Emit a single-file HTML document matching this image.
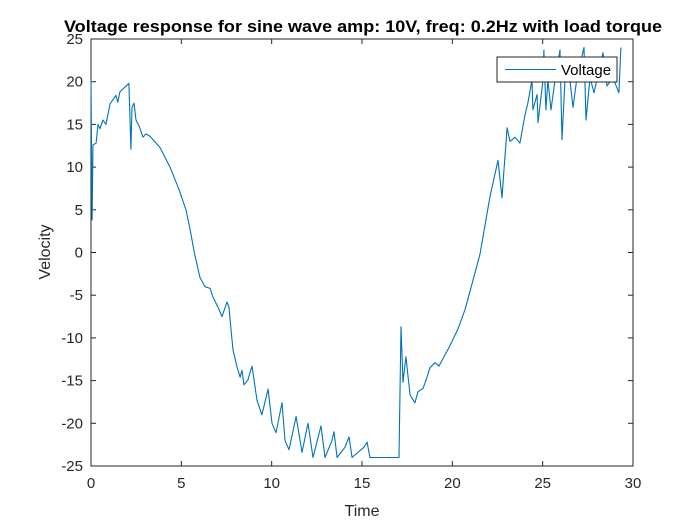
<!DOCTYPE html>
<html><head><meta charset="utf-8"><style>
body{margin:0;background:#fff;}
svg text{font-family:"Liberation Sans",Arial,sans-serif;}
</style></head><body>
<svg id="chart" width="700" height="525" xmlns="http://www.w3.org/2000/svg">
<rect width="700" height="525" fill="#fff"/>
<g id="plot"></g>
</svg>
<script>
const xTicks=[0,5,10,15,20,25,30];
const yTicks=[-25,-20,-15,-10,-5,0,5,10,15,20,25];
const timeVals=[
0,0.06,0.11,0.28,0.39,0.5,0.66,0.83,1.05,1.38,
1.49,1.6,2.1,2.21,2.27,2.38,2.49,2.66,2.88,3.04,
3.27,3.82,4.37,4.85,5.26,5.5,5.72,6.03,6.31,6.59,
6.75,7.03,7.25,7.53,7.64,7.75,7.86,8.08,8.25,8.36,
8.47,8.69,8.91,9.19,9.46,9.8,10.02,10.24,10.57,10.74,
10.96,11.35,11.68,12.01,12.29,12.73,12.95,13.34,13.45,13.62,
14.06,14.28,14.45,15.11,15.28,15.44,17.05,17.16,17.27,17.43,
17.66,17.93,18.1,18.38,18.6,18.76,19.04,19.26,19.87,20.3,
20.7,21.1,21.53,22.08,22.53,22.75,22.86,23.03,23.19,23.47,
23.74,24.02,24.19,24.41,24.46,24.69,24.74,25.02,25.07,25.18,
25.29,25.46,25.68,25.96,26.07,26.24,26.51,26.68,26.9,27.29,
27.4,27.62,27.84,28.34,28.56,28.89,29.22,29.33];
const velocityVals=[
20.2,3.8,12.6,12.8,15,14.5,15.5,15,17.4,18.4,
17.6,18.8,19.8,12.1,17,17.5,15.5,14.8,13.5,13.9,
13.6,12.3,10,7.5,5,2.5,0,-2.9,-4,-4.2,
-5.2,-6.4,-7.5,-5.8,-6.4,-9,-11.4,-13.4,-14.6,-13.8,
-15.5,-14.9,-13.3,-17.3,-19,-16,-20,-21.1,-17.6,-22,
-23.1,-19.2,-23.4,-20,-24,-20.3,-24,-22,-21,-24,
-22.8,-21.6,-24,-22.8,-22.2,-24,-24,-8.7,-15.2,-12.2,
-16.7,-17.6,-16.3,-15.9,-14.6,-13.5,-12.9,-13.3,-10.9,-9,
-6.7,-3.6,-0.2,6.5,10.8,6.4,9.7,14.6,13,13.5,
12.8,16.1,17.6,20.2,16.7,18.5,15.2,20.2,23.7,16.7,
20.2,16.7,20.2,23.7,13.2,20.5,20.2,17,20.5,24,
15.5,20.5,18.7,23.4,19.5,20.5,18.7,24];
const L=91,R=633,T=39,B=466;
const xS=v=>L+(v-0)/(30-0)*(R-L);
const yS=v=>B-(v+25)/50*(B-T);
const g=document.getElementById('plot');
const NS='http://www.w3.org/2000/svg';
function mk(tag,attrs,txt){const e=document.createElementNS(NS,tag);for(const k in attrs)e.setAttribute(k,attrs[k]);if(txt!==undefined)e.textContent=txt;g.appendChild(e);return e;}
let e=mk('rect',{x:L,y:T,width:R-L,height:B-T,fill:'#fff',stroke:'#262626','stroke-width':1});


xTicks.forEach(t=>{const x=xS(t);
 mk('line',{x1:x,x2:x,y1:B,y2:B-5,stroke:'#262626'});mk('line',{x1:x,x2:x,y1:T,y2:T+5,stroke:'#262626'});
 const tx=mk('text',{x:x,y:B+22,'text-anchor':'middle','font-size':15,fill:'#262626'},String(t));
 
 });
yTicks.forEach(t=>{const y=yS(t);
 mk('line',{x1:L,x2:L+5,y1:y,y2:y,stroke:'#262626'});mk('line',{x1:R,x2:R-5,y1:y,y2:y,stroke:'#262626'});
 const tx=mk('text',{x:L-8,y:y+5,'text-anchor':'end','font-size':15,fill:'#262626'},String(t));
 
 });
const n=Math.min(timeVals.length,velocityVals.length);
const pts=timeVals.slice(0,n).map((t,i)=>xS(t).toFixed(1)+','+yS(velocityVals[i]).toFixed(1)).join(' ');
e=mk('polyline',{points:pts,fill:'none',stroke:'#0072BD','stroke-width':1.1,'stroke-linejoin':'round'});


e=mk('text',{x:64,y:32,'font-size':16.5,'font-weight':'bold',fill:'#000',textLength:598,lengthAdjust:'spacingAndGlyphs'},'Voltage response for sine wave amp: 10V, freq: 0.2Hz with load torque');


e=mk('text',{x:362,y:516,'text-anchor':'middle','font-size':16,fill:'#262626'},'Time');


e=mk('text',{x:50,y:252,'text-anchor':'middle','font-size':16,fill:'#262626',transform:'rotate(-90 50 252)'},'Velocity');


e=mk('rect',{x:497,y:57,width:120,height:25,fill:'#fff',stroke:'#262626','stroke-width':1});


mk('line',{x1:505,x2:556,y1:69.5,y2:69.5,stroke:'#0072BD','stroke-width':1.1});
e=mk('text',{x:561,y:75,'font-size':15,fill:'#000'},'Voltage');


</script>
</body></html>
